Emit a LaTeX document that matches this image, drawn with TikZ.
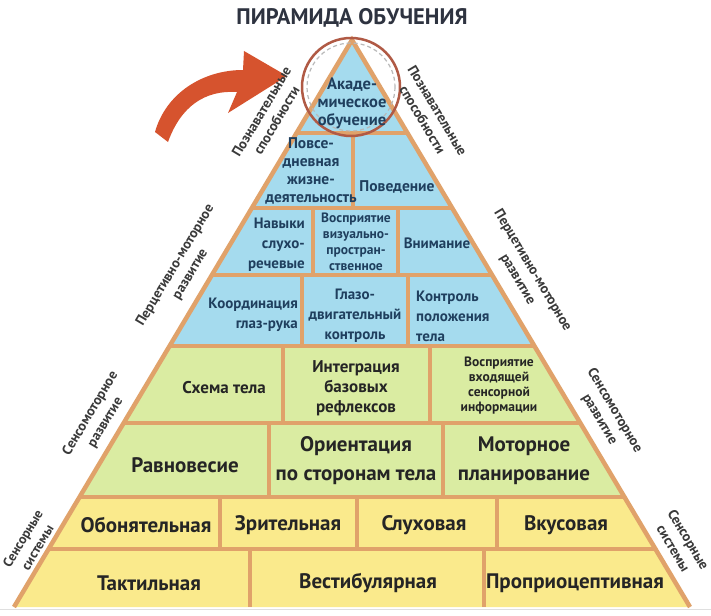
\documentclass[tikz,border=0pt]{standalone}
\usepackage{fontspec}
\setmainfont{PT Sans}
\definecolor{edgeor}{HTML}{E0A26A}
\definecolor{skyfill}{HTML}{A5DBEE}
\definecolor{greenfill}{HTML}{DAECA2}
\definecolor{yellowfill}{HTML}{FAEA8C}
\definecolor{navy}{HTML}{1F3F5E}
\definecolor{ink}{HTML}{252525}
\definecolor{sidegray}{HTML}{3A3A3A}
\definecolor{arrowred}{HTML}{D6532E}
\definecolor{ringbrown}{HTML}{B05A45}
\definecolor{titleink}{HTML}{2E3340}
\begin{document}
\begin{tikzpicture}[x=1pt,y=-1pt,
  sepline/.style={draw=edgeor, line width=4pt},
  rim/.style={draw=edgeor, line width=4.5pt, line join=miter},
  bluetxt/.style={text=navy, align=center, inner sep=0pt},
  darktxt/.style={text=ink, align=center, inner sep=0pt},
  ftop/.style={font={\bfseries\fontsize{16.5}{18}\selectfont}},
  fdaily/.style={font={\bfseries\fontsize{15.5}{18.3}\selectfont}},
  fvis/.style={font={\bfseries\fontsize{13.5}{16}\selectfont}},
  fmid/.style={font={\bfseries\fontsize{15}{20}\selectfont}},
  fgreen/.style={font={\bfseries\fontsize{17}{20}\selectfont}},
  fsmall/.style={font={\bfseries\fontsize{13.5}{15}\selectfont}},
  fbig/.style={font={\bfseries\fontsize{21}{29}\selectfont}},
  sidetxt/.style={text=sidegray, align=center, inner sep=0pt, font={\bfseries\fontsize{14}{17.5}\selectfont}},
  sideleft/.style={sidetxt, rotate=59.2},
  sideright/.style={sidetxt, rotate=-59.2}
]
\useasboundingbox (0,0) rectangle (711,615);
\fill[white] (0,0) rectangle (711,615);
\coordinate (apex) at (352,40);
\coordinate (bl) at (14,607);
\coordinate (br) at (690,607);
\begin{scope}
  \clip (apex) -- (br) -- (bl) -- cycle;
  \fill[skyfill] (0,30) rectangle (711,346);
  \fill[greenfill] (0,346) rectangle (711,497);
  \fill[yellowfill] (0,497) rectangle (711,615);
  \foreach \yy in {133,208,275,346,423,497,549}
    \draw[sepline] (0,\yy) -- (711,\yy);
  \draw[sepline] (353,133) -- (353,208);
  \draw[sepline] (313,208) -- (313,275);
  \draw[sepline] (398,208) -- (398,275);
  \draw[sepline] (302,275) -- (302,346);
  \draw[sepline] (408,275) -- (408,346);
  \draw[sepline] (283,346) -- (283,423);
  \draw[sepline] (430,346) -- (430,423);
  \draw[sepline] (269,423) -- (269,497);
  \draw[sepline] (443,423) -- (443,497);
  \draw[sepline] (220,497) -- (220,549);
  \draw[sepline] (357,497) -- (357,549);
  \draw[sepline] (497,497) -- (497,549);
  \draw[sepline] (250,549) -- (250,607);
  \draw[sepline] (484,549) -- (484,607);
\end{scope}
\draw[rim] (bl) -- (apex) -- (br);
\draw[gray!25, line width=1pt] (0,609.5) -- (711,609.5);

% ring around the apex
\draw[gray!55, line width=1.2pt, dash pattern=on 4pt off 3pt] (351,87) circle (44);
\draw[ringbrown, line width=2.5pt] (351,87) circle (49);

% arrow
\fill[arrowred] (155,132) .. controls (166,93) and (203,70) .. (243,70)
  -- (244,51) -- (287,76) -- (228,113) -- (237,92)
  .. controls (205,90) and (181,106) .. (168,142) -- cycle;

% title
\node[text=titleink, font={\bfseries\fontsize{22.5}{25}\selectfont}, inner sep=0pt] (title) at (352,18) {ПИРАМИДА ОБУЧЕНИЯ};

% level texts
\node[bluetxt, ftop] (acad) at (352,103) {Акаде-\\мическое\\обучение};
\node[bluetxt, fdaily] (daily) at (311,171) {Повсе-\\дневная\\жизне-\\деятельность};
\node[bluetxt, fdaily] (behav) at (397,187) {Поведение};
\node[bluetxt, fmid, align=right, anchor=east] (hear) at (305,245) {Навыки\\слухо-\\речевые};
\node[bluetxt, fvis] (visual) at (356,242) {Восприятие\\визуально-\\простран-\\ственное};
\node[bluetxt, fmid] (attn) at (437,243) {Внимание};
\node[bluetxt, fmid, align=right, anchor=east] (coord) at (298,315) {Координация\\глаз-рука};
\node[bluetxt, fmid] (eye) at (355,316) {Глазо-\\двигательный\\контроль};
\node[bluetxt, fmid, align=left, anchor=west] (posture) at (416,316) {Контроль\\положения\\тела};
\node[darktxt, fgreen] (scheme) at (224,388) {Схема тела};
\node[darktxt, fgreen] (reflex) at (356,388) {Интеграция\\базовых\\рефлексов};
\node[darktxt, fsmall] (input) at (499,386) {Восприятие\\входящей\\сенсорной\\информации};
\node[darktxt, fbig] (balance) at (185,465) {Равновесие};
\node[darktxt, fbig] (orient) at (356,461) {Ориентация\\по сторонам тела};
\node[darktxt, fbig] (motor) at (524,461) {Моторное\\планирование};
\node[darktxt, fbig] (smell) at (146,525) {Обонятельная};
\node[darktxt, fbig] (sight) at (288,525) {Зрительная};
\node[darktxt, fbig] (sound) at (424,525) {Слуховая};
\node[darktxt, fbig] (taste) at (566,525) {Вкусовая};
\node[darktxt, fbig] (touch) at (149,583) {Тактильная};
\node[darktxt, fbig] (vest) at (368,583) {Вестибулярная};
\node[darktxt, fbig] (proprio) at (575,583) {Проприоцептивная};

% side labels
\node[sideleft] (l1) at (269,116) {Познавательные\\способности};
\node[sideleft] (l2) at (183,270) {Перцетивно-моторное\\развитие};
\node[sideleft] (l3) at (98,418) {Сенсомоторное\\развитие};
\node[sideleft, font={\bfseries\fontsize{13.5}{17}\selectfont}] (l4) at (30,543) {Сенсорные\\системы};
\node[sideright] (r1) at (430,115) {Познавательные\\способности};
\node[sideright] (r2) at (525,275) {Перцетивно-моторное\\развитие};
\node[sideright] (r3) at (607,415) {Сенсомоторное\\развитие};
\node[sideright] (r4) at (681,544) {Сенсорные\\системы};
\end{tikzpicture}
\end{document}
